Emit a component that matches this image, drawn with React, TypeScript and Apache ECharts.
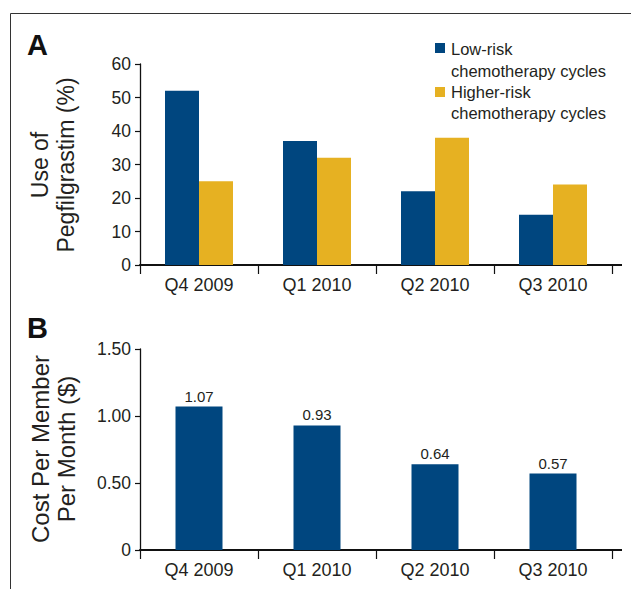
import React, { useEffect, useRef } from "react";
import * as echarts from "echarts";

const categories = ["Q4 2009", "Q1 2010", "Q2 2010", "Q3 2010"];
const lowRiskUse = [52, 37, 22, 15];
const higherRiskUse = [25, 32, 38, 24];
const costPerMember = [1.07, 0.93, 0.64, 0.57];
const seriesNames = ["Low-risk chemotherapy cycles", "Higher-risk chemotherapy cycles"];

const BLUE = "#00467f";
const GOLD = "#e6b122";
const TEXT = "#231f20";
const FONT = "'Liberation Sans', Arial, sans-serif";

export default function App() {
  const ref = useRef<HTMLDivElement>(null);
  useEffect(() => {
    if (!ref.current) return;
    const chart = echarts.init(ref.current, null, { renderer: "svg" });
    const xAxisBase = {
      type: "category" as const,
      data: categories,
      axisLine: { lineStyle: { color: "#111", width: 2 } },
      axisTick: { show: true, length: 9, lineStyle: { color: "#111", width: 1.2 } },
      axisLabel: { fontSize: 18, color: TEXT, margin: 11, fontFamily: FONT },
    };
    const yAxisBase = {
      type: "value" as const,
      axisLine: { show: true, lineStyle: { color: "#111", width: 1.3 } },
      axisTick: { show: true, length: 5, lineStyle: { color: "#111", width: 1.2 } },
      splitLine: { show: false },
      axisLabel: { fontSize: 17.5, color: TEXT, margin: 9, fontFamily: FONT },
    };
    chart.setOption({
      animation: false,
      textStyle: { fontFamily: FONT },
      grid: [
        { left: 140, top: 64, width: 472, height: 201 },
        { left: 140, top: 349, width: 472, height: 201 },
      ],
      xAxis: [
        { ...xAxisBase, gridIndex: 0 },
        { ...xAxisBase, gridIndex: 1 },
      ],
      yAxis: [
        { ...yAxisBase, gridIndex: 0, min: 0, max: 60, interval: 10 },
        {
          ...yAxisBase,
          gridIndex: 1,
          min: 0,
          max: 1.5,
          interval: 0.5,
          axisLabel: {
            ...yAxisBase.axisLabel,
            formatter: (v: number) => (v === 0 ? "0" : v.toFixed(2)),
          },
        },
      ],
      series: [
        {
          name: seriesNames[0],
          type: "bar",
          xAxisIndex: 0,
          yAxisIndex: 0,
          data: lowRiskUse,
          barWidth: 34,
          barGap: "0%",
          itemStyle: { color: BLUE },
        },
        {
          name: seriesNames[1],
          type: "bar",
          xAxisIndex: 0,
          yAxisIndex: 0,
          data: higherRiskUse,
          barWidth: 34,
          barGap: "0%",
          itemStyle: { color: GOLD },
        },
        {
          name: "Cost per member per month",
          type: "bar",
          xAxisIndex: 1,
          yAxisIndex: 1,
          data: costPerMember,
          barWidth: 47,
          itemStyle: { color: BLUE },
          label: {
            show: true,
            position: "top",
            distance: 3,
            fontSize: 15,
            color: TEXT,
            fontFamily: FONT,
            formatter: (p: any) => Number(p.value).toFixed(2),
          },
        },
      ],
      graphic: [
        { type: "line", shape: { x1: 10.5, y1: 13.5, x2: 631, y2: 13.5 }, style: { stroke: "#333", lineWidth: 1 } },
        { type: "line", shape: { x1: 10.5, y1: 13.5, x2: 10.5, y2: 589 }, style: { stroke: "#333", lineWidth: 1 } },
        { type: "line", shape: { x1: 612, y1: 265, x2: 622, y2: 265 }, style: { stroke: "#111", lineWidth: 2 } },
        { type: "line", shape: { x1: 612, y1: 550, x2: 622, y2: 550 }, style: { stroke: "#111", lineWidth: 2 } },
        { type: "text", left: 27, top: 30, style: { text: "A", fontSize: 29, fontWeight: "bold", fill: "#111", fontFamily: FONT } },
        { type: "text", left: 27, top: 313, style: { text: "B", fontSize: 29, fontWeight: "bold", fill: "#111", fontFamily: FONT } },
        {
          type: "text", x: 40, y: 165, rotation: Math.PI / 2,
          style: { text: "Use of", fontSize: 23, fill: TEXT, fontFamily: FONT, align: "center", verticalAlign: "middle" },
        },
        {
          type: "text", x: 66, y: 165, rotation: Math.PI / 2,
          style: { text: "Pegfilgrastim (%)", fontSize: 23, fill: TEXT, fontFamily: FONT, align: "center", verticalAlign: "middle" },
        },
        {
          type: "text", x: 40, y: 449, rotation: Math.PI / 2,
          style: { text: "Cost Per Member", fontSize: 24, fill: TEXT, fontFamily: FONT, align: "center", verticalAlign: "middle" },
        },
        {
          type: "text", x: 66, y: 449, rotation: Math.PI / 2,
          style: { text: "Per Month ($)", fontSize: 24, fill: TEXT, fontFamily: FONT, align: "center", verticalAlign: "middle" },
        },
        { type: "rect", shape: { x: 435, y: 43, width: 10, height: 10 }, style: { fill: BLUE } },
        { type: "text", x: 451, y: 49, style: { text: "Low-risk", fontSize: 16.5, fill: TEXT, fontFamily: FONT, verticalAlign: "middle" } },
        { type: "text", x: 451, y: 71, style: { text: "chemotherapy cycles", fontSize: 16.5, fill: TEXT, fontFamily: FONT, verticalAlign: "middle" } },
        { type: "rect", shape: { x: 435, y: 87, width: 10, height: 10 }, style: { fill: GOLD } },
        { type: "text", x: 451, y: 92, style: { text: "Higher-risk", fontSize: 16.5, fill: TEXT, fontFamily: FONT, verticalAlign: "middle" } },
        { type: "text", x: 451, y: 113, style: { text: "chemotherapy cycles", fontSize: 16.5, fill: TEXT, fontFamily: FONT, verticalAlign: "middle" } },
      ],
    });
    return () => chart.dispose();
  }, []);
  return <div ref={ref} style={{ width: 631, height: 589, position: "absolute", left: 0, top: 0 }} />;
}
